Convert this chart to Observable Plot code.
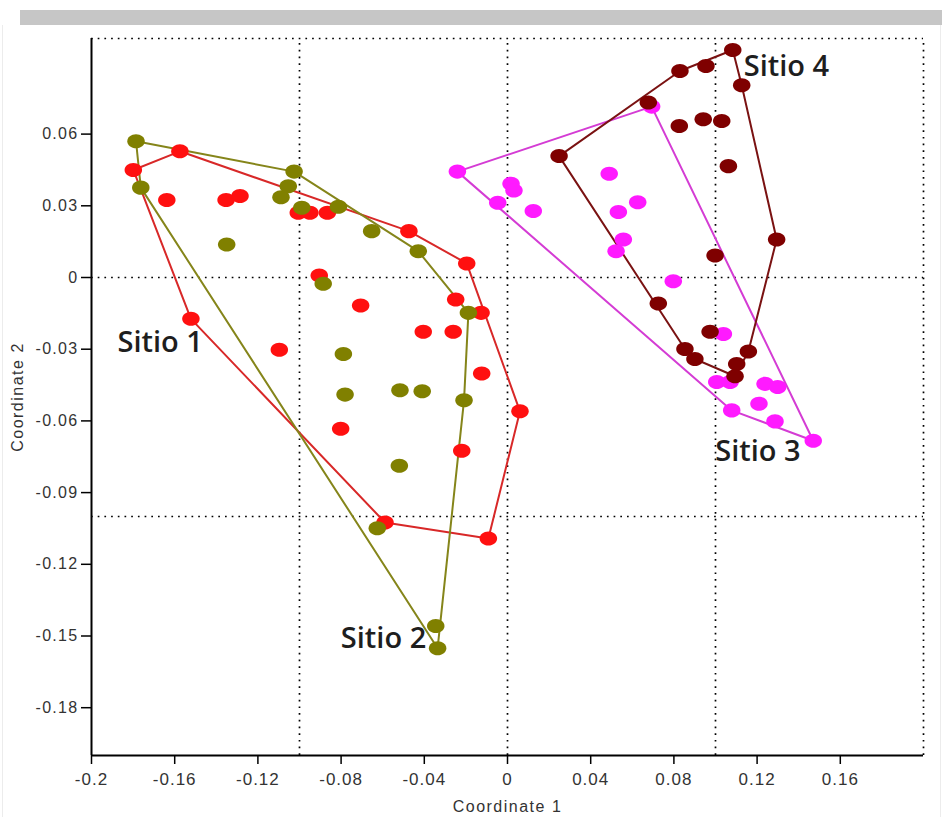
<!DOCTYPE html>
<html><head><meta charset="utf-8">
<script src="https://cdn.jsdelivr.net/npm/d3@7"></script>
<script src="https://cdn.jsdelivr.net/npm/@observablehq/plot@0.6"></script>
<style>
body{margin:0;background:#fff;}
#wrap{position:relative;width:942px;height:817px;overflow:hidden;background:#fff;}
#bar{position:absolute;left:20px;top:10px;width:922px;height:15px;background:#c6c6c6;}
#frame{position:absolute;left:2px;top:25px;width:937px;height:800px;border-left:1px solid #ececec;border-right:1px solid #ececec;}
#chart{position:absolute;left:0;top:0;}
g[aria-label="y-axis tick label"] text{letter-spacing:1.3px;font-size:16px;}
g[aria-label="x-axis tick label"] text{letter-spacing:1px;font-size:17px;}
g[aria-label="x-axis label"] text, g[aria-label="y-axis label"] text{letter-spacing:1.5px;font-size:16px;}
</style></head><body>
<div id="wrap"><div id="bar"></div><div id="frame"></div><div id="chart"></div></div>
<script>
// ---- data ----
const sites = ["Sitio 1", "Sitio 2", "Sitio 3", "Sitio 4"];
const pointColors = ["#ff1010", "#808000", "#ff1aff", "#7f0000"];
const hullColors = ["#d82828", "#85851a", "#d43cd4", "#7a1212"];

const sitio1X = [-0.1575,-0.1799,-0.1638,-0.1353,-0.1286,-0.1006,-0.0950,-0.0866,-0.0474,-0.0196,-0.0905,-0.0706,-0.0249,-0.0127,-0.1522,-0.0405,-0.0261,-0.1097,-0.0124,-0.0802,0.0060,-0.0220,-0.0589,-0.0092];
const sitio1Y = [0.0528,0.0450,0.0324,0.0324,0.0341,0.0271,0.0271,0.0271,0.0194,0.0059,0.0008,-0.0117,-0.0092,-0.0148,-0.0173,-0.0227,-0.0227,-0.0302,-0.0402,-0.0633,-0.0560,-0.0725,-0.1025,-0.1092];

const sitio2X = [-0.1786,-0.1763,-0.1026,-0.1054,-0.1089,-0.0989,-0.0813,-0.0653,-0.0429,-0.1350,-0.0886,-0.0188,-0.0789,-0.0781,-0.0517,-0.0410,-0.0209,-0.0520,-0.0626,-0.0345,-0.0336];
const sitio2Y = [0.0570,0.0376,0.0443,0.0382,0.0336,0.0292,0.0296,0.0194,0.0110,0.0138,-0.0026,-0.0148,-0.0320,-0.0490,-0.0472,-0.0476,-0.0514,-0.0788,-0.1049,-0.1458,-0.1551];

const sitio3X = [-0.0241,-0.0047,0.0017,0.0031,0.0124,0.0489,0.0626,0.0533,0.0557,0.0522,0.0693,0.0797,0.1038,0.1006,0.1070,0.1238,0.1299,0.1209,0.1078,0.1286,0.1470];
const sitio3Y = [0.0443,0.0313,0.0392,0.0364,0.0278,0.0434,0.0315,0.0274,0.0159,0.0110,0.0715,-0.0016,-0.0236,-0.0437,-0.0437,-0.0445,-0.0458,-0.0528,-0.0556,-0.0602,-0.0683];

const sitio4X = [0.1083,0.0829,0.0954,0.1126,0.0677,0.0826,0.0941,0.1030,0.0248,0.1062,0.1294,0.0998,0.0725,0.0974,0.0853,0.0901,0.1158,0.1102,0.1094];
const sitio4Y = [0.0952,0.0864,0.0885,0.0804,0.0732,0.0634,0.0662,0.0655,0.0508,0.0466,0.0159,0.0092,-0.0109,-0.0227,-0.0299,-0.0341,-0.0310,-0.0362,-0.0413];

const labelText = ["Sitio 1", "Sitio 2", "Sitio 3", "Sitio 4"];
const labelX = [-0.167, -0.0596, 0.1204, 0.1341];
const labelY = [-0.0272, -0.1512, -0.0729, 0.0880];

const xTicks = [-0.2,-0.16,-0.12,-0.08,-0.04,0,0.04,0.08,0.12,0.16];
const yTicks = [0.06,0.03,0,-0.03,-0.06,-0.09,-0.12,-0.15,-0.18];
const gridX = [-0.1, 0, 0.1, 0.2];
const gridY = [0.1, 0, -0.1];

// ---- build ----
const siteXs = [sitio1X, sitio2X, sitio3X, sitio4X];
const siteYs = [sitio1Y, sitio2Y, sitio3Y, sitio4Y];
const siteData = siteXs.map((xs, i) => xs.map((x, j) => ({site: sites[i], x, y: siteYs[i][j]})));
const labels = labelText.map((t, i) => ({t, x: labelX[i], y: labelY[i]}));
const fmt = d => d === 0 ? "0" : String(+d.toFixed(2));

const ellipse = {draw(ctx, size) {
  const r = Math.sqrt(size / Math.PI), rx = r * 1.12, ry = r * 0.9, k = 0.5523;
  ctx.moveTo(rx, 0);
  ctx.bezierCurveTo(rx, ry * k, rx * k, ry, 0, ry);
  ctx.bezierCurveTo(-rx * k, ry, -rx, ry * k, -rx, 0);
  ctx.bezierCurveTo(-rx, -ry * k, -rx * k, -ry, 0, -ry);
  ctx.bezierCurveTo(rx * k, -ry, rx, -ry * k, rx, 0);
  ctx.closePath();
}};

const marks = [
  Plot.ruleX(gridX, {y1: -0.2, y2: 0.1, stroke: "#000", strokeWidth: 1.7, strokeDasharray: "1.7,5"}),
  Plot.ruleY(gridY, {x1: -0.2, x2: 0.2, stroke: "#000", strokeWidth: 1.7, strokeDasharray: "1.7,5"}),
  ...siteData.map((d, i) => Plot.hull(d, {x: "x", y: "y", stroke: hullColors[i], strokeWidth: 2})),
  ...siteData.map((d, i) => Plot.dot(d, {x: "x", y: "y", r: 7.8, symbol: ellipse, fill: pointColors[i], stroke: "none"})),
  Plot.axisX({ticks: xTicks, tickFormat: fmt, tickSize: 9, tickPadding: 8, fontSize: 17, stroke: "#000", strokeWidth: 1.5,
    label: "Coordinate 1", labelAnchor: "center", labelArrow: "none", labelOffset: 56, fill: "#333"}),
  Plot.axisY({ticks: yTicks, tickFormat: fmt, tickSize: 10, tickPadding: 3, fontSize: 16, stroke: "#000", strokeWidth: 1.5,
    label: "Coordinate 2", labelAnchor: "center", labelArrow: "none", labelOffset: 80, fill: "#333"}),
  Plot.ruleX([-0.2], {y1: -0.2, y2: 0.1, stroke: "#000", strokeWidth: 2}),
  Plot.ruleY([-0.2], {x1: -0.2, x2: 0.2, stroke: "#000", strokeWidth: 2}),
  Plot.text(labels, {x: "x", y: "y", text: "t", fontSize: 29, fontWeight: 600, fontFamily: "Open Sans", fill: "#1e1e1e"})
];

const chart = Plot.plot({
  width: 942, height: 817,
  marginLeft: 91, marginRight: 19, marginTop: 38, marginBottom: 62,
  style: {fontFamily: "'Liberation Sans', Arial, sans-serif", color: "#333", background: "transparent", overflow: "visible"},
  x: {domain: [-0.2, 0.2]},
  y: {domain: [-0.2, 0.1]},
  marks
});
document.getElementById("chart").appendChild(chart);
</script>
</body></html>
